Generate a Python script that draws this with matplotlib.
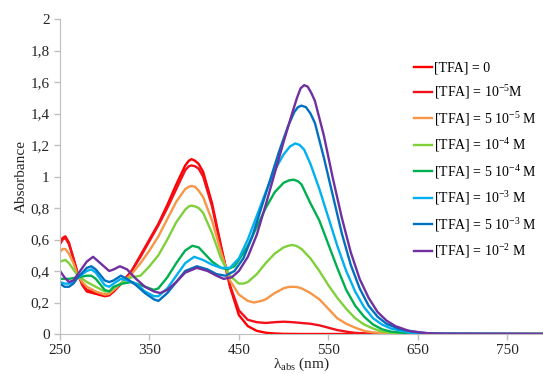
import matplotlib.pyplot as plt
from matplotlib.ticker import FuncFormatter

plt.rcParams['font.family'] = 'Liberation Serif'
plt.rcParams['mathtext.fontset'] = 'custom'
plt.rcParams['mathtext.rm'] = 'Liberation Serif'
plt.rcParams['mathtext.it'] = 'Liberation Serif:italic'

# [TFA] = 0
wl_0 = [250, 253, 256, 260, 265, 270, 275, 280, 290, 300, 305, 310, 320, 330, 340, 350, 360, 370, 380, 390,
        394, 397, 401, 405, 410, 420, 430, 440, 450, 460, 470, 480, 490, 500, 520, 790]
ab_0 = [0.58, 0.61, 0.62, 0.58, 0.48, 0.38, 0.31, 0.27, 0.255, 0.24, 0.245, 0.27, 0.33, 0.40, 0.50, 0.60, 0.70,
        0.82, 0.95, 1.07, 1.10, 1.11, 1.10, 1.08, 1.03, 0.83, 0.56, 0.30, 0.12, 0.05, 0.02, 0.008, 0.003,
        0.001, 0.0, 0.0]

# [TFA] = 1e-5
wl_1 = [250, 253, 256, 260, 265, 270, 275, 280, 290, 300, 305, 310, 320, 330, 340, 350, 360, 370, 380, 390,
        394, 397, 401, 405, 410, 420, 430, 440, 450, 460, 470, 480, 490, 500, 510, 520, 530, 540, 550, 560,
        570, 580, 600, 620, 790]
ab_1 = [0.57, 0.60, 0.61, 0.57, 0.48, 0.38, 0.32, 0.28, 0.265, 0.25, 0.25, 0.27, 0.33, 0.40, 0.49, 0.59, 0.69,
        0.80, 0.92, 1.04, 1.065, 1.07, 1.065, 1.05, 1.00, 0.81, 0.55, 0.31, 0.15, 0.09, 0.075, 0.07, 0.075,
        0.078, 0.075, 0.07, 0.065, 0.055, 0.04, 0.025, 0.015, 0.007, 0.002, 0.0, 0.0]

# [TFA] = 5e-5
wl_2 = [250, 253, 256, 260, 265, 270, 275, 280, 290, 300, 305, 310, 320, 330, 340, 350, 360, 370, 380, 390,
        394, 397, 401, 405, 410, 420, 430, 440, 450, 460, 467, 475, 480, 490, 500, 505, 510, 515, 520, 530,
        540, 550, 560, 570, 580, 590, 600, 620, 640, 790]
ab_2 = [0.52, 0.54, 0.54, 0.51, 0.45, 0.37, 0.33, 0.30, 0.27, 0.25, 0.255, 0.28, 0.33, 0.38, 0.45, 0.53, 0.62,
        0.73, 0.84, 0.92, 0.935, 0.94, 0.935, 0.91, 0.87, 0.72, 0.52, 0.34, 0.25, 0.21, 0.20, 0.21, 0.22,
        0.26, 0.29, 0.298, 0.30, 0.298, 0.29, 0.26, 0.22, 0.16, 0.10, 0.065, 0.04, 0.02, 0.01, 0.003, 0.0, 0.0]

# [TFA] = 1e-4
wl_3 = [250, 256, 260, 265, 270, 280, 290, 300, 305, 310, 320, 330, 340, 350, 360, 370, 380, 390, 394, 397,
        401, 405, 410, 420, 430, 440, 450, 455, 460, 470, 480, 490, 500, 505, 509, 514, 520, 530, 540, 550,
        560, 570, 580, 590, 600, 610, 620, 640, 660, 790]
ab_3 = [0.46, 0.47, 0.45, 0.41, 0.37, 0.33, 0.30, 0.27, 0.27, 0.29, 0.33, 0.36, 0.37, 0.43, 0.50, 0.60, 0.71,
        0.79, 0.81, 0.815, 0.81, 0.80, 0.77, 0.64, 0.48, 0.37, 0.32, 0.32, 0.33, 0.38, 0.45, 0.51, 0.55,
        0.56, 0.565, 0.56, 0.54, 0.48, 0.40, 0.31, 0.23, 0.16, 0.10, 0.06, 0.035, 0.015, 0.008, 0.002, 0.0, 0.0]

# [TFA] = 5e-4
wl_4 = [250, 260, 270, 280, 285, 290, 300, 305, 310, 320, 330, 340, 350, 355, 360, 370, 380, 390, 398, 405,
        410, 420, 430, 437, 445, 450, 460, 470, 480, 490, 500, 506, 511, 516, 520, 530, 540, 550, 560, 570,
        580, 590, 600, 610, 620, 640, 660, 790]
ab_4 = [0.35, 0.35, 0.36, 0.37, 0.37, 0.35, 0.28, 0.27, 0.30, 0.32, 0.33, 0.31, 0.29, 0.28, 0.29, 0.36, 0.45,
        0.53, 0.56, 0.55, 0.52, 0.46, 0.42, 0.41, 0.43, 0.47, 0.56, 0.68, 0.80, 0.90, 0.96, 0.975, 0.98,
        0.97, 0.95, 0.83, 0.72, 0.57, 0.42, 0.28, 0.18, 0.11, 0.06, 0.03, 0.015, 0.004, 0.0, 0.0]

# [TFA] = 1e-3
wl_5 = [250, 255, 260, 265, 270, 280, 285, 290, 300, 305, 310, 318, 325, 335, 345, 355, 360, 370, 380, 390,
        400, 410, 420, 430, 440, 450, 460, 470, 480, 490, 500, 507, 513, 518, 523, 530, 540, 550, 560, 570,
        580, 590, 600, 610, 620, 640, 660, 790]
ab_5 = [0.33, 0.32, 0.32, 0.33, 0.36, 0.40, 0.41, 0.39, 0.31, 0.30, 0.32, 0.35, 0.34, 0.32, 0.27, 0.24, 0.24,
        0.29, 0.37, 0.45, 0.49, 0.47, 0.44, 0.42, 0.42, 0.48, 0.60, 0.75, 0.90, 1.04, 1.14, 1.19, 1.21,
        1.20, 1.17, 1.08, 0.92, 0.74, 0.56, 0.40, 0.27, 0.17, 0.10, 0.06, 0.035, 0.01, 0.002, 0.0]

# [TFA] = 5e-3
wl_6 = [250, 255, 260, 265, 270, 280, 285, 290, 300, 305, 310, 318, 325, 335, 345, 355, 360, 370, 380, 390,
        403, 415, 425, 435, 445, 455, 465, 475, 485, 495, 505, 512, 516, 520, 525, 530, 535, 545, 555, 565,
        575, 585, 595, 605, 615, 630, 650, 670, 790]
ab_6 = [0.32, 0.30, 0.30, 0.32, 0.36, 0.42, 0.43, 0.41, 0.34, 0.33, 0.34, 0.37, 0.35, 0.31, 0.26, 0.22, 0.21,
        0.26, 0.33, 0.40, 0.43, 0.41, 0.38, 0.37, 0.40, 0.48, 0.62, 0.80, 0.98, 1.16, 1.32, 1.41, 1.44,
        1.45, 1.44, 1.40, 1.34, 1.12, 0.88, 0.64, 0.44, 0.29, 0.18, 0.11, 0.065, 0.03, 0.01, 0.002, 0.0]

# [TFA] = 1e-2
wl_7 = [250, 255, 260, 265, 270, 280, 287, 295, 305, 310, 317, 325, 335, 345, 355, 362, 370, 380, 390, 403,
        415, 425, 433, 442, 450, 460, 470, 480, 490, 500, 510, 515, 519, 523, 527, 531, 535, 545, 555, 565,
        575, 585, 595, 605, 615, 625, 640, 660, 680, 790]
ab_7 = [0.40, 0.36, 0.33, 0.34, 0.38, 0.46, 0.49, 0.45, 0.40, 0.41, 0.43, 0.41, 0.35, 0.30, 0.27, 0.26, 0.28,
        0.33, 0.39, 0.42, 0.40, 0.37, 0.35, 0.36, 0.40, 0.49, 0.63, 0.82, 1.02, 1.22, 1.41, 1.50, 1.56,
        1.58, 1.57, 1.53, 1.48, 1.26, 0.99, 0.74, 0.52, 0.35, 0.23, 0.14, 0.085, 0.05, 0.02, 0.005, 0.001, 0.0]

labels = ['[TFA] = 0', '[TFA] = 10$^{-5}$M', '[TFA] = 5 10$^{-5}$ M', '[TFA] = 10$^{-4}$ M',
          '[TFA] = 5 10$^{-4}$ M', '[TFA] = 10$^{-3}$ M', '[TFA] = 5 10$^{-3}$ M', '[TFA] = 10$^{-2}$ M']
colors = ['#FF0000', '#F2111A', '#F79646', '#7FD13B', '#00B050', '#00B0F0', '#0070C0', '#7030A0']

series = [(wl_0, ab_0), (wl_1, ab_1), (wl_2, ab_2), (wl_3, ab_3),
          (wl_4, ab_4), (wl_5, ab_5), (wl_6, ab_6), (wl_7, ab_7)]

fig = plt.figure(figsize=(5.43, 3.74), dpi=100)
ax = fig.add_axes([60/543, 1 - 334/374, 1 - 60/543, 315/374])

for (wl, ab), lab, c in zip(series, labels, colors):
    ax.plot(wl, ab, color=c, lw=1.7, label=lab, solid_joinstyle='round')

ax.set_xlim(250, 790)
ax.set_ylim(0, 2)
ax.set_xticks([250, 350, 450, 550, 650, 750])
ax.set_yticks([0, 0.2, 0.4, 0.6, 0.8, 1.0, 1.2, 1.4, 1.6, 1.8, 2.0])
ax.yaxis.set_major_formatter(FuncFormatter(lambda v, p: ('%g' % round(v, 1)).replace('.', ',')))
ax.tick_params(labelsize=11, length=4, width=1, colors='#BFBFBF', labelcolor='#262626')
for s in ['top', 'right']:
    ax.spines[s].set_visible(False)
for s in ['left', 'bottom']:
    ax.spines[s].set_color('#BFBFBF')

ax.set_ylabel('Absorbance', fontsize=11, color='#262626', labelpad=2)
ax.set_xlabel(r'$\mathrm{\lambda_{abs}}$ (nm)', fontsize=11, color='#262626', labelpad=-1)

ax.legend(loc='upper left', bbox_to_anchor=(408/543, 1 - 56/374), bbox_transform=fig.transFigure,
          frameon=False, fontsize=10, handlelength=1.3, handletextpad=0.2, labelspacing=0.62,
          borderaxespad=0)

fig.savefig('out.png', dpi=100)
